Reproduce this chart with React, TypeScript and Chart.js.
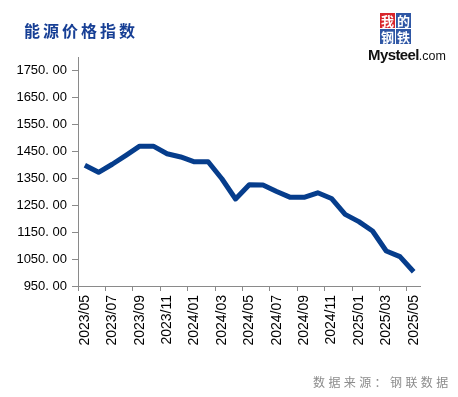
import React, { useEffect, useRef } from 'react';
import { Chart, registerables } from 'chart.js';

Chart.register(...registerables);

const months = [
  '2023/05', '2023/06', '2023/07', '2023/08', '2023/09', '2023/10', '2023/11', '2023/12',
  '2024/01', '2024/02', '2024/03', '2024/04', '2024/05', '2024/06', '2024/07', '2024/08',
  '2024/09', '2024/10', '2024/11', '2024/12', '2025/01', '2025/02', '2025/03', '2025/04', '2025/05',
];
const energyIndex = [
  1398, 1372, 1402, 1435, 1469, 1469, 1441, 1429,
  1411, 1411, 1348, 1273, 1326, 1325, 1301, 1279,
  1279, 1296, 1275, 1216, 1189, 1154, 1080, 1059, 1003,
];
const yTicks = [950, 1050, 1150, 1250, 1350, 1450, 1550, 1650, 1750];
const yMin = 950;
const yMax = 1800;

const title = '能源价格指数';
const source = '数据来源：钢联数据';
const logoChars = ['我', '的', '钢', '铁'];

const AXIS = '#8a8a8a';

export default function App() {
  const ref = useRef<HTMLCanvasElement>(null);

  useEffect(() => {
    const chart = new Chart(ref.current!, {
      type: 'line',
      data: {
        labels: months,
        datasets: [
          {
            data: energyIndex,
            borderColor: '#063d8c',
            backgroundColor: '#063d8c',
            borderWidth: 5,
            pointRadius: 0,
            tension: 0,
            borderJoinStyle: 'round',
            fill: false,
          },
        ],
      },
      options: {
        animation: false,
        responsive: false,
        maintainAspectRatio: false,
        layout: { padding: { left: 0, right: 37.5, top: 57, bottom: 31 } },
        plugins: { legend: { display: false }, tooltip: { enabled: false } },
        scales: {
          x: {
            type: 'category',
            offset: true,
            grid: {
              offset: true,
              drawOnChartArea: false,
              drawTicks: true,
              tickLength: 5,
              lineWidth: 1,
              color: (c: any) => (c.index % 2 === 0 && c.index < months.length ? AXIS : 'rgba(0,0,0,0)'),
            },
            border: { display: true, color: AXIS, width: 1 },
            ticks: {
              autoSkip: false,
              maxRotation: 90,
              minRotation: 90,
              padding: 4,
              color: '#000',
              font: { family: '"Liberation Sans", Arial, sans-serif', size: 14 },
              callback: (_v: any, i: number) => (i % 2 === 0 ? months[i] : ''),
            },
            afterFit: (s: any) => {
              s.height = 80;
            },
          },
          y: {
            min: yMin,
            max: yMax,
            afterBuildTicks: (s: any) => {
              s.ticks = yTicks.map((v) => ({ value: v }));
            },
            afterFit: (s: any) => {
              s.width = 78;
            },
            grid: { drawOnChartArea: false, drawTicks: true, tickLength: 6, color: AXIS, lineWidth: 1 },
            border: { display: true, color: AXIS, width: 1 },
            ticks: {
              padding: 5,
              color: '#000',
              font: { family: '"Liberation Sans", Arial, sans-serif', size: 13 },
              callback: (v: any) => Number(v).toFixed(2).replace('.', '. '),
            },
          },
        },
      },
    } as any);
    return () => chart.destroy();
  }, []);

  const box = (ch: string, i: number) => (
    <div
      key={ch}
      style={{
        position: 'absolute',
        left: 380 + (i % 2) * 16,
        top: 13 + Math.floor(i / 2) * 16,
        width: 15,
        height: 15,
        background: i === 0 ? '#d8262c' : '#2f57a5',
        color: '#fff',
        fontFamily: '"Noto Sans CJK SC", sans-serif',
        fontWeight: 700,
        fontSize: 13,
        lineHeight: '15px',
        textAlign: 'center',
      }}
    >
      {ch}
    </div>
  );

  return (
    <div style={{ position: 'absolute', left: 0, top: 0, width: 458, height: 397, background: '#fff', overflow: 'hidden' }}>
      <canvas ref={ref} width={458} height={397} style={{ position: 'absolute', left: 0, top: 0, width: 458, height: 397 }} />
      <div
        style={{
          position: 'absolute',
          left: 24,
          top: 20,
          fontFamily: '"Noto Sans CJK SC", sans-serif',
          fontWeight: 700,
          fontSize: 16,
          lineHeight: '20px',
          letterSpacing: 3,
          color: '#173f95',
          whiteSpace: 'nowrap',
        }}
      >
        {title}
      </div>
      {logoChars.map(box)}
      <div
        style={{
          position: 'absolute',
          left: 368,
          top: 46,
          fontFamily: '"Liberation Sans", Arial, sans-serif',
          color: '#111',
          whiteSpace: 'nowrap',
          lineHeight: '18px',
        }}
      >
        <span style={{ fontWeight: 700, fontSize: 15, letterSpacing: -0.6 }}>Mysteel</span>
        <span style={{ fontSize: 12.5 }}>.com</span>
      </div>
      <div
        style={{
          position: 'absolute',
          left: 313,
          top: 374,
          fontFamily: '"Noto Sans CJK SC", sans-serif',
          fontSize: 12,
          lineHeight: '16px',
          letterSpacing: 3.4,
          color: '#8c8c8c',
          whiteSpace: 'nowrap',
        }}
      >
        {source}
      </div>
    </div>
  );
}
